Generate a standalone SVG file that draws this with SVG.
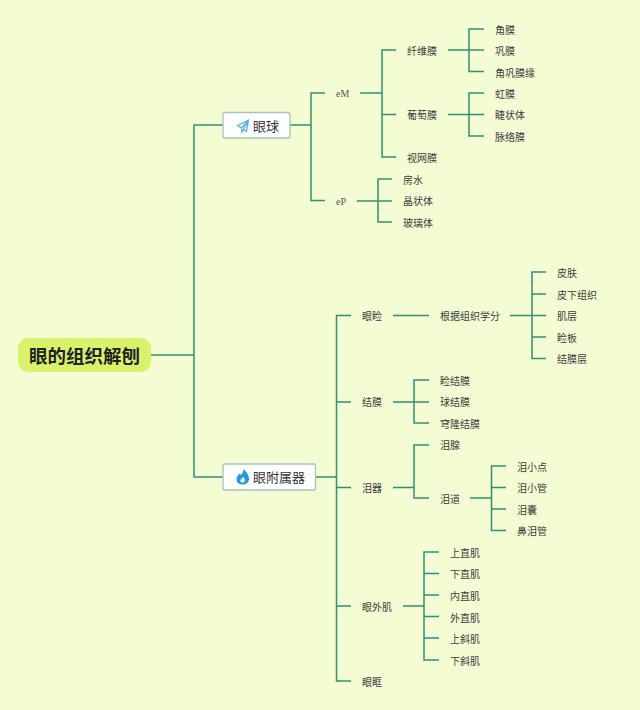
<svg xmlns="http://www.w3.org/2000/svg" width="640" height="710" viewBox="0 0 640 710">
<style>
.c{fill:none;stroke:#2f9170;stroke-width:1.5}
text{font-family:"Noto Sans CJK SC","Noto Sans",sans-serif;dominant-baseline:central}
.l{font-size:10px;fill:#3c3c3c}
.e{font-family:"Liberation Serif","Noto Sans CJK SC",serif;font-size:10px;fill:#555}
.b{font-size:13px;fill:#333}
.box{fill:#fff;stroke:#a3c6b6;stroke-width:1.3}
</style>
<rect width="640" height="710" fill="#f4fcd3"/>
<g id="connectors" class="c">
<path d="M151 355H194M223 125H194V477H223"/>
<path d="M290 125H311M325 93H311V200.5H325"/>
<path d="M360 93H382M396 50H382V157H396M382 114.5H396"/>
<path d="M448 50H484M484 29H469V71.5H484"/>
<path d="M448 114.5H484M484 93H469V136H484"/>
<path d="M357 201H392M392 179H378V222H392"/>
<path d="M315 477H336.500M351 315.500H336.500V681H351M336.500 402H351M336.500 487.500H351M336.500 606H351"/>
<path d="M393 315.500H429M510 315.500H546M546 272H532V358.500H546M532 294H546M532 337H546"/>
<path d="M393 402H429M429 380H414V423H429"/>
<path d="M393 487.500H414M429 445H414V498H429M470 498H491.500M506 466H491.500V530.500H506M491.500 487.500H506M491.500 509H506"/>
<path d="M403 606H424M439 552H424V660H439M424 573.500H439M424 595H439M424 616.500H439M424 638H439"/>
</g>
<g id="root"><rect x="18" y="338" width="133" height="34" rx="10" fill="#d9f26c"/><text x="84.500" y="355" font-size="18.500" font-weight="700" fill="#222" text-anchor="middle">眼的组织解刨</text></g>
<g id="n-yanqiu"><rect class="box" x="223" y="112.500" width="67" height="25.500" rx="2"/><path d="M248.500 120L237.500 125.500L241.500 128L248.500 120L243.500 129.500L246.500 131.500Z M241.500 128L242 132.500L243.500 129.500" fill="none" stroke="#55b2e2" stroke-width="1.300" stroke-linejoin="round"/><text class="b" x="253" y="125.500">眼球</text></g>
<g id="n-fushu"><rect class="box" x="223" y="464" width="92.500" height="26" rx="2"/><path fill-rule="evenodd" d="M243.500 469C244 472 242 473.500 241 475L239.500 473.500C237.500 475.500 236.500 477.500 236.500 479.500C236.500 482.500 239.500 484.500 242.500 484.500C246 484.500 249 482.500 249 479C249 475.500 246.500 471.500 243.500 469ZM243 476.500C244.500 478.500 245.500 480 244.500 481.500C243.500 483 241.500 483 240.500 481.500C240 480.500 240.500 479.500 241.500 478.500C242 479 242.500 478 243 476.500Z" fill="#2196e3"/><text class="b" x="253" y="476.500">眼附属器</text></g>
<g id="n-em"><text class="e" x="336" y="93.500">eM</text></g>
<g id="n-ep"><text class="e" x="336" y="201">eP</text></g>
<g id="n1"><text class="l" x="407" y="50">纤维膜</text></g>
<g id="n2"><text class="l" x="407" y="114.500">葡萄膜</text></g>
<g id="n3"><text class="l" x="407" y="157.500">视网膜</text></g>
<g id="n4"><text class="l" x="495" y="29">角膜</text></g>
<g id="n5"><text class="l" x="495" y="50">巩膜</text></g>
<g id="n6"><text class="l" x="495" y="72">角巩膜缘</text></g>
<g id="n7"><text class="l" x="495" y="93">虹膜</text></g>
<g id="n8"><text class="l" x="495" y="114.500">睫状体</text></g>
<g id="n9"><text class="l" x="495" y="136">脉络膜</text></g>
<g id="n10"><text class="l" x="403" y="179.500">房水</text></g>
<g id="n11"><text class="l" x="403" y="200.500">晶状体</text></g>
<g id="n12"><text class="l" x="403" y="222">玻璃体</text></g>
<g id="n13"><text class="l" x="362" y="315">眼睑</text></g>
<g id="n14"><text class="l" x="440" y="315">根据组织学分</text></g>
<g id="n15"><text class="l" x="557" y="272.500">皮肤</text></g>
<g id="n16"><text class="l" x="557" y="294">皮下组织</text></g>
<g id="n17"><text class="l" x="557" y="315.500">肌层</text></g>
<g id="n18"><text class="l" x="557" y="337">睑板</text></g>
<g id="n19"><text class="l" x="557" y="358.500">结膜层</text></g>
<g id="n20"><text class="l" x="362" y="401.500">结膜</text></g>
<g id="n21"><text class="l" x="440" y="380">睑结膜</text></g>
<g id="n22"><text class="l" x="440" y="401.500">球结膜</text></g>
<g id="n23"><text class="l" x="440" y="423">穹隆结膜</text></g>
<g id="n24"><text class="l" x="362" y="487.500">泪器</text></g>
<g id="n25"><text class="l" x="440" y="444.500">泪腺</text></g>
<g id="n26"><text class="l" x="440" y="498">泪道</text></g>
<g id="n27"><text class="l" x="517" y="466">泪小点</text></g>
<g id="n28"><text class="l" x="517" y="487.500">泪小管</text></g>
<g id="n29"><text class="l" x="517" y="509">泪囊</text></g>
<g id="n30"><text class="l" x="517" y="530.500">鼻泪管</text></g>
<g id="n31"><text class="l" x="362" y="606">眼外肌</text></g>
<g id="n32"><text class="l" x="450" y="552">上直肌</text></g>
<g id="n33"><text class="l" x="450" y="573.500">下直肌</text></g>
<g id="n34"><text class="l" x="450" y="595">内直肌</text></g>
<g id="n35"><text class="l" x="450" y="617">外直肌</text></g>
<g id="n36"><text class="l" x="450" y="638.500">上斜肌</text></g>
<g id="n37"><text class="l" x="450" y="660">下斜肌</text></g>
<g id="n38"><text class="l" x="362" y="681">眼眶</text></g>
</svg>
